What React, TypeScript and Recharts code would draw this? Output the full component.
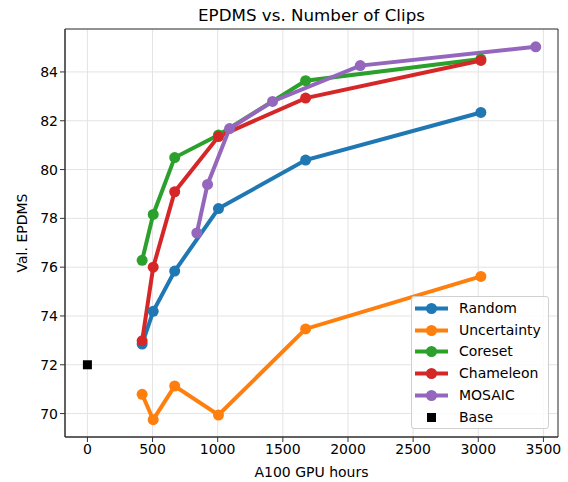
import React from 'react';
import {
  ComposedChart, Line, Scatter, XAxis, YAxis, CartesianGrid, ReferenceArea,
} from 'recharts';

// GPU hours for each run (same budgets for the baselines)
const hours = [420, 505, 670, 1006, 1675, 3020];

const randomVals = [72.85, 74.19, 75.84, 78.4, 80.39, 82.34];
const uncertaintyVals = [70.79, 69.75, 71.13, 69.94, 73.47, 75.62];
const coresetVals = [76.28, 78.16, 80.49, 81.42, 83.64, 84.53];
const chameleonVals = [72.98, 76.0, 79.09, 81.35, 82.93, 84.47];

const mosaicHours = [840, 922, 1091, 1421, 2094, 3441];
const mosaicVals = [77.4, 79.39, 81.68, 82.79, 84.26, 85.03];

const baseHours = [0];
const baseVals = [72.0];

const xTicks = [0, 500, 1000, 1500, 2000, 2500, 3000, 3500];
const yTicks = [70, 72, 74, 76, 78, 80, 82, 84];

const toPoints = (xs: number[], ys: number[]) => xs.map((x, i) => ({ x, y: ys[i] }));

const series = [
  { name: 'Random', color: '#1f77b4', data: toPoints(hours, randomVals) },
  { name: 'Uncertainty', color: '#ff7f0e', data: toPoints(hours, uncertaintyVals) },
  { name: 'Coreset', color: '#2ca02c', data: toPoints(hours, coresetVals) },
  { name: 'Chameleon', color: '#d62728', data: toPoints(hours, chameleonVals) },
  { name: 'MOSAIC', color: '#9467bd', data: toPoints(mosaicHours, mosaicVals) },
];
const baseData = toPoints(baseHours, baseVals);

const X_DOMAIN: [number, number] = [-172, 3612];
const Y_DOMAIN: [number, number] = [69.04, 85.76];
const FONT = '"DejaVu Sans", sans-serif';

const Square = (props: any) => {
  const { cx, cy } = props;
  return <rect x={cx - 4.5} y={cy - 4.5} width={9} height={9} fill="#000" />;
};

const Legend = () => (
  <div
    style={{
      position: 'absolute', left: 411, top: 296, width: 138, height: 133,
      border: '1px solid #d0d0d0', borderRadius: 3, background: 'rgba(255,255,255,0.85)',
      boxSizing: 'border-box', fontFamily: FONT, fontSize: 14,
    }}
  >
    {series.map((s, i) => (
      <div key={s.name} style={{ position: 'absolute', left: 0, top: 1 + i * 21.7, height: 21.7, width: '100%' }}>
        <svg width={40} height={21.7} style={{ position: 'absolute', left: 0, top: 0 }}>
          <line x1={3} x2={36} y1={10.5} y2={10.5} stroke={s.color} strokeWidth={4} />
          <circle cx={19.5} cy={10.5} r={5.5} fill={s.color} />
        </svg>
        <span style={{ position: 'absolute', left: 47, top: 2, lineHeight: '17px' }}>{s.name}</span>
      </div>
    ))}
    <div style={{ position: 'absolute', left: 0, top: 1 + 5 * 21.7, height: 21.7, width: '100%' }}>
      <svg width={40} height={21.7} style={{ position: 'absolute', left: 0, top: 0 }}>
        <rect x={15} y={6} width={9} height={9} fill="#000" />
      </svg>
      <span style={{ position: 'absolute', left: 47, top: 2, lineHeight: '17px' }}>Base</span>
    </div>
  </div>
);

export default function App() {
  return (
    <div style={{ position: 'absolute', left: 0, top: 0, width: 568, height: 482, background: '#fff' }}>
      <ComposedChart
        width={568}
        height={482}
        margin={{ top: 29, right: 10, left: 0, bottom: 15 }}
        style={{ fontFamily: FONT }}
      >
        <CartesianGrid stroke="#e3e3e3" strokeWidth={1} />
        <XAxis
          type="number"
          dataKey="x"
          domain={X_DOMAIN}
          ticks={xTicks}
          allowDataOverflow
          height={30}
          tickSize={5}
          stroke="#333"
          tick={{ fill: '#000', fontSize: 14 }}
        />
        <YAxis
          type="number"
          dataKey="y"
          domain={Y_DOMAIN}
          ticks={yTicks}
          allowDataOverflow
          width={65}
          tickSize={5}
          stroke="#333"
          tick={{ fill: '#000', fontSize: 14 }}
        />
        <ReferenceArea
          x1={X_DOMAIN[0]} x2={X_DOMAIN[1]} y1={Y_DOMAIN[0]} y2={Y_DOMAIN[1]}
          fill="none" stroke="#333" strokeWidth={1} fillOpacity={0}
        />
        {series.map(s => (
          <Line
            key={s.name}
            data={s.data}
            dataKey="y"
            name={s.name}
            stroke={s.color}
            strokeWidth={4}
            dot={{ r: 5.5, fill: s.color, stroke: s.color, strokeWidth: 0 }}
            activeDot={false}
            isAnimationActive={false}
          />
        ))}
        <Scatter data={baseData} dataKey="y" name="Base" shape={<Square />} isAnimationActive={false} />
      </ComposedChart>

      <div style={{ position: 'absolute', left: 65, top: 5, width: 493, textAlign: 'center', fontFamily: FONT, fontSize: 16.7, lineHeight: '20px' }}>
        EPDMS vs. Number of Clips
      </div>
      <div style={{ position: 'absolute', left: 65, top: 463, width: 493, textAlign: 'center', fontFamily: FONT, fontSize: 14, lineHeight: '18px' }}>
        A100 GPU hours
      </div>
      <div
        style={{
          position: 'absolute', left: 22, top: 233, width: 200, marginLeft: -100, marginTop: -9,
          transform: 'rotate(-90deg)', textAlign: 'center', fontFamily: FONT, fontSize: 14, lineHeight: '18px',
        }}
      >
        Val. EPDMS
      </div>
      <Legend />
    </div>
  );
}
